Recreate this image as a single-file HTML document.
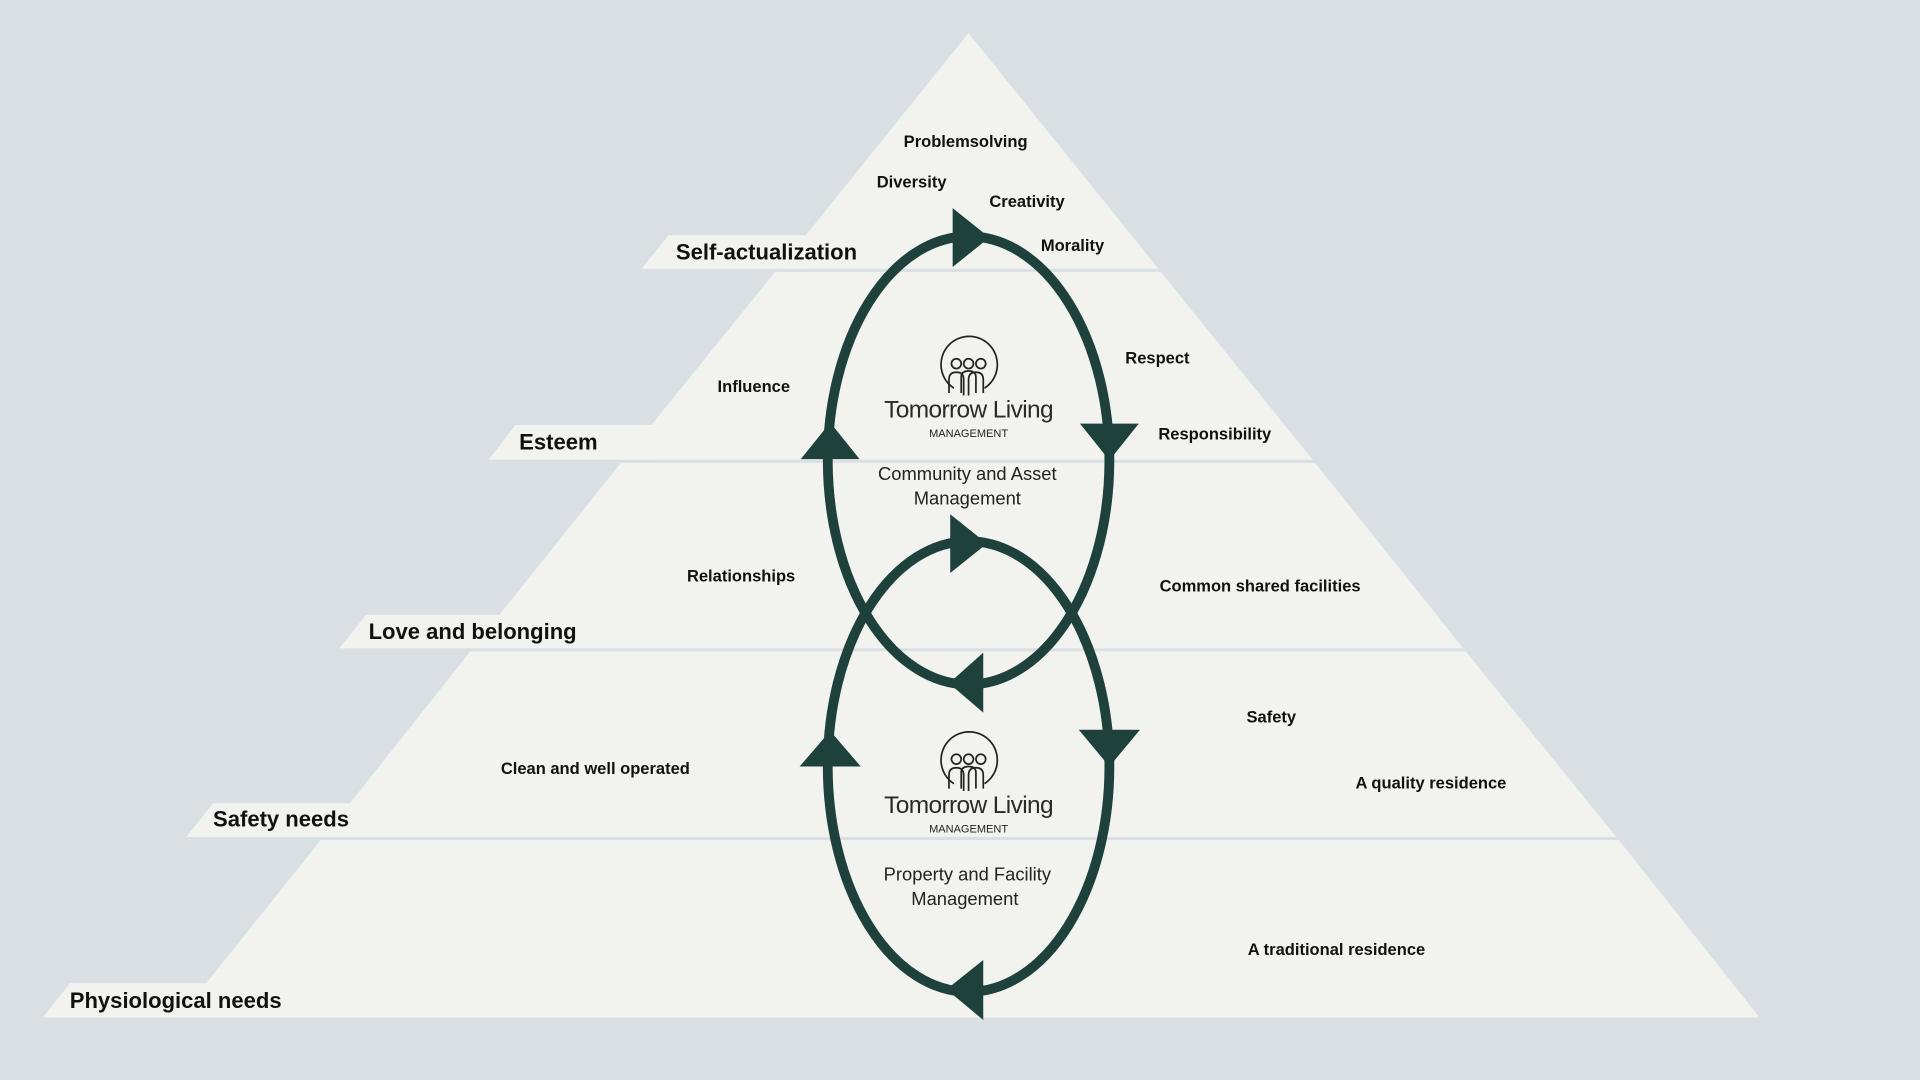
<!DOCTYPE html>
<html><head><meta charset="utf-8"><style>
html,body{margin:0;padding:0;background:#dadfe3;width:1920px;height:1080px;overflow:hidden}
svg{display:block}
text{font-family:"Liberation Sans","DejaVu Sans",sans-serif}
.l{font-size:13.5px;font-weight:bold;fill:#111}
.b{font-size:18px;font-weight:bold;fill:#111}
.c{font-size:15px;fill:#222;text-anchor:middle}
.t{font-size:20px;fill:#2a2a2a;text-anchor:middle;letter-spacing:-0.5px}
</style></head><body>
<svg width="1920" height="1080" viewBox="0 0 1568 882" preserveAspectRatio="none">
<rect width="1568" height="882" fill="#dadfe3"/>
<g fill="#f2f3ee">
<polygon points="791,27 946,219.5 636,219.5"/>
<polygon points="633,222 948,222 1072,375.5 509,375.5"/>
<polygon points="507,378 1074,378 1195,529.5 386,529.5"/>
<polygon points="384,532 1197,532 1320,683.5 264,683.5"/>
<polygon points="262,686 1322,686 1437,831 146,831"/>
<polygon points="546,192 680,192 658,219.5 524,219.5"/>
<polygon points="421,347 560,347 536,375.5 399,375.5"/>
<polygon points="299,502 440,502 410,529.5 277,529.5"/>
<polygon points="174,656 320,656 286,683.5 152,683.5"/>
<polygon points="57,803 200,803 170,831 35,831"/>
</g>
<g fill="none" stroke="#1e423b" stroke-width="8">
<ellipse cx="791" cy="376" rx="115" ry="183"/>
<ellipse cx="791" cy="626" rx="115" ry="184"/>
</g>
<g fill="#1e423b">
<polygon points="778,170 778,218 808,194"/>
<polygon points="654,375 702,375 678,345"/>
<polygon points="882,346 930,346 906,376"/>
<polygon points="803,533 803,582 775,558"/>
<polygon points="776,420 776,468 806,444"/>
<polygon points="653,626 703,626 678,597"/>
<polygon points="881,596 931,596 906,626"/>
<polygon points="803,784 803,833 773,808"/>
</g>
<text class="b" x="552" y="212">Self-actualization</text>
<text class="b" x="424" y="367">Esteem</text>
<text class="b" x="301" y="522">Love and belonging</text>
<text class="b" x="174" y="675">Safety needs</text>
<text class="b" x="57" y="823">Physiological needs</text>
<text class="l" x="738" y="120">Problemsolving</text>
<text class="l" x="716" y="153">Diversity</text>
<text class="l" x="808" y="169">Creativity</text>
<text class="l" x="850" y="205">Morality</text>
<text class="l" x="919" y="297">Respect</text>
<text class="l" x="946" y="359">Responsibility</text>
<text class="l" x="586" y="320">Influence</text>
<text class="l" x="561" y="475">Relationships</text>
<text class="l" x="947" y="483">Common shared facilities</text>
<text class="l" x="1018" y="590">Safety</text>
<text class="l" x="1107" y="644">A quality residence</text>
<text class="l" x="409" y="632">Clean and well operated</text>
<text class="l" x="1019" y="780">A traditional residence</text>
<g id="logo1" fill="none" stroke="#222" stroke-width="1.4" transform="translate(0,5)">
<path d="M779,312 A23,23 0 1 1 804,312"/>
<circle cx="781" cy="292" r="4"/><circle cx="791" cy="292" r="4"/><circle cx="801" cy="292" r="4"/>
<path d="M775,316 V305 q0,-6 6,-6 q6,0 6,6 V318 M791,318 V305 q0,-6 6,-6 q6,0 6,6 V316 M785,316 V303 q0,-5 6,-5 q6,0 6,5 V316"/>
</g>
<use href="#logo1" y="323"/>
<text class="t" x="791" y="341">Tomorrow Living</text>
<text x="791" y="357" text-anchor="middle" style="font-size:9px;fill:#222">MANAGEMENT</text>
<text class="c" x="790" y="392">Community and Asset</text>
<text class="c" x="790" y="412">Management</text>
<text class="t" x="791" y="664">Tomorrow Living</text>
<text x="791" y="680" text-anchor="middle" style="font-size:9px;fill:#222">MANAGEMENT</text>
<text class="c" x="790" y="719">Property and Facility</text>
<text class="c" x="788" y="739">Management</text>
</svg>
</body></html>
